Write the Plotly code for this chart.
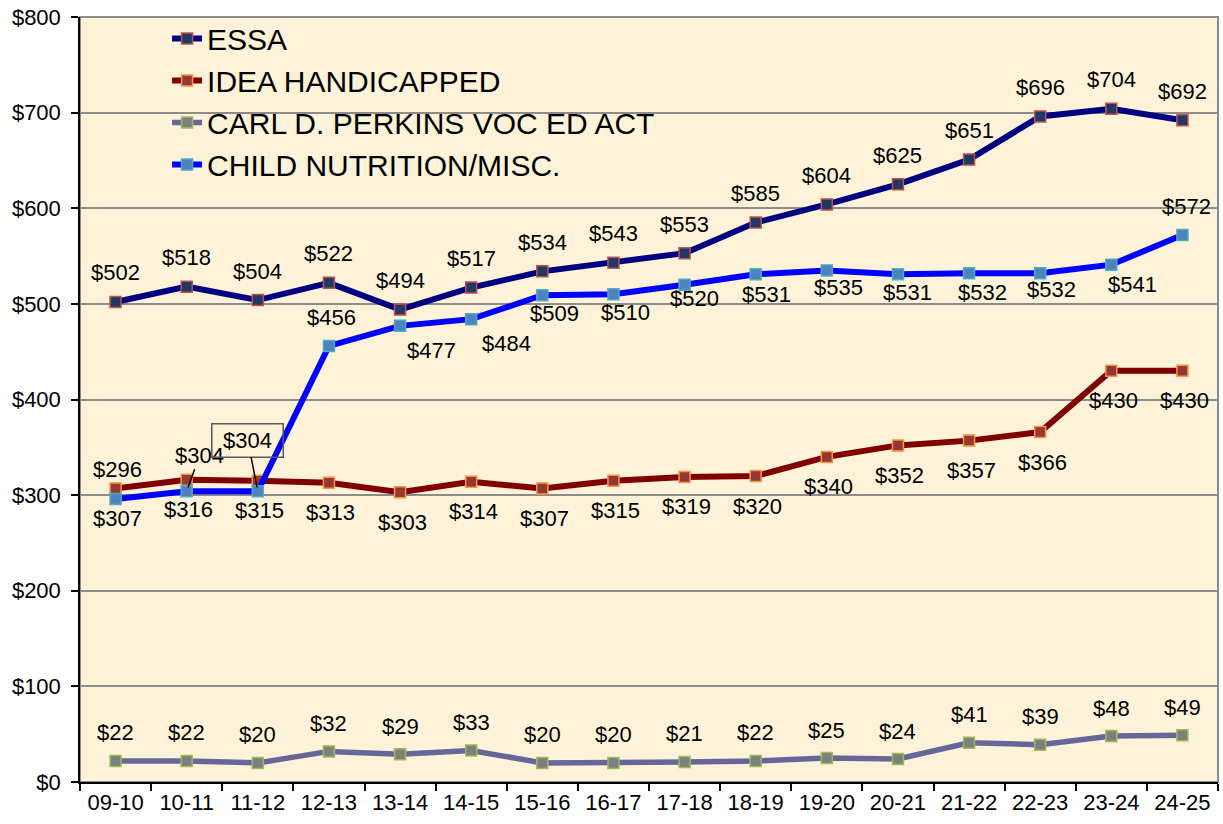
import plotly.graph_objects as go

years = ["09-10", "10-11", "11-12", "12-13", "13-14", "14-15", "15-16", "16-17",
         "17-18", "18-19", "19-20", "20-21", "21-22", "22-23", "23-24", "24-25"]
essa = [502, 518, 504, 522, 494, 517, 534, 543, 553, 585, 604, 625, 651, 696, 704, 692]
idea = [307, 316, 315, 313, 303, 314, 307, 315, 319, 320, 340, 352, 357, 366, 430, 430]
perkins = [22, 22, 20, 32, 29, 33, 20, 20, 21, 22, 25, 24, 41, 39, 48, 49]
child = [296, 304, 304, 456, 477, 484, 509, 510, 520, 531, 535, 531, 532, 532, 541, 572]

# label placement offsets (screen px: dx right, dy down) for child nutrition labels
child_dx = [2, 13, -10, 3, 31, 35, 12, 12, 10, 11, 12, 10, 13, 11, 21, 4]
child_dy = [-29, -36, -51, -28, 25, 24, 18, 18, 14, 20, 17, 18, 19, 16, 20, -29]

FONT = "Liberation Sans, Arial, sans-serif"

series = [
    ("ESSA", essa, "#000080", "#1F3864", "#C0504D", 6),
    ("IDEA HANDICAPPED", idea, "#800000", "#953735", "#F79646", 6),
    ("CARL D. PERKINS VOC ED ACT", perkins, "#666699", "#7F7F7F", "#9BBB59", 5.5),
    ("CHILD NUTRITION/MISC.", child, "#0000FF", "#4F81BD", "#4BACC6", 6),
]

fig = go.Figure()
for name, vals, lc, mf, mb, lw in series:
    fig.add_trace(go.Scatter(
        x=years, y=vals, name=name, mode="lines+markers",
        line=dict(color=lc, width=lw),
        marker=dict(symbol="square", size=11, color=mf, line=dict(color=mb, width=1.5)),
        hoverinfo="x+y",
    ))

annotations = []
lab_font = dict(family=FONT, size=22, color="#000000")
for yr, v in zip(years, essa):
    annotations.append(dict(x=yr, y=v, text=f"${v}", showarrow=False, yshift=29,
                            font=lab_font, xanchor="center", yanchor="middle"))
for yr, v in zip(years, idea):
    annotations.append(dict(x=yr, y=v, text=f"${v}", showarrow=False, yshift=-30, xshift=2,
                            font=lab_font, xanchor="center", yanchor="middle"))
for yr, v in zip(years, perkins):
    annotations.append(dict(x=yr, y=v, text=f"${v}", showarrow=False, yshift=28,
                            font=lab_font, xanchor="center", yanchor="middle"))
for i, (yr, v) in enumerate(zip(years, child)):
    if i == 1:
        annotations.append(dict(x=yr, y=v, text=f"${v}", showarrow=True, arrowhead=0,
                                arrowwidth=1.5, arrowcolor="#000000", standoff=4,
                                ax=child_dx[i], ay=child_dy[i], font=lab_font))
    elif i == 2:
        annotations.append(dict(x=yr, y=v, text=f"${v}", showarrow=True, arrowhead=0,
                                arrowwidth=1.5, arrowcolor="#000000", standoff=4,
                                ax=child_dx[i], ay=child_dy[i], font=lab_font,
                                bordercolor="#595959", borderwidth=1.5, width=68, height=30))
    else:
        annotations.append(dict(x=yr, y=v, text=f"${v}", showarrow=False,
                                xshift=child_dx[i], yshift=-child_dy[i],
                                font=lab_font, xanchor="center", yanchor="middle"))

fig.update_layout(
    width=1223, height=824,
    margin=dict(l=80, r=5, t=17, b=42),
    paper_bgcolor="#FFFFFF",
    plot_bgcolor="#FEF3D8",
    font=dict(family=FONT, color="#000000"),
    showlegend=True,
    legend=dict(x=0.0765, y=1.006, xanchor="left", yanchor="top",
                bgcolor="rgba(0,0,0,0)", font=dict(family=FONT, size=30, color="#000000"),
                itemclick=False, tracegroupgap=0),
    annotations=annotations,
    shapes=[dict(type="rect", xref="paper", yref="paper", x0=0, x1=1, y0=0, y1=1,
                 line=dict(color="#8C8C8C", width=2), layer="below")],
)
fig.update_xaxes(type="category", tickson="boundaries", ticks="outside", ticklen=7,
                 tickcolor="#000000", tickwidth=1.5, showline=True, linecolor="#000000",
                 linewidth=1.5, showgrid=False, tickfont=dict(family=FONT, size=22),
                 range=[-0.5, 15.5], zeroline=False)
fig.update_yaxes(range=[0, 800], dtick=100, tickprefix="$", ticks="outside", ticklen=7,
                 tickcolor="#000000", tickwidth=1.5, showline=True, linecolor="#000000",
                 linewidth=1.5, gridcolor="#8C8C8C", gridwidth=1.5, zeroline=False,
                 ticklabelstandoff=6, tickfont=dict(family=FONT, size=22))

fig.write_html("out.html", config={"displayModeBar": False},
               post_script="document.body.style.margin='0';document.body.style.padding='0';")
